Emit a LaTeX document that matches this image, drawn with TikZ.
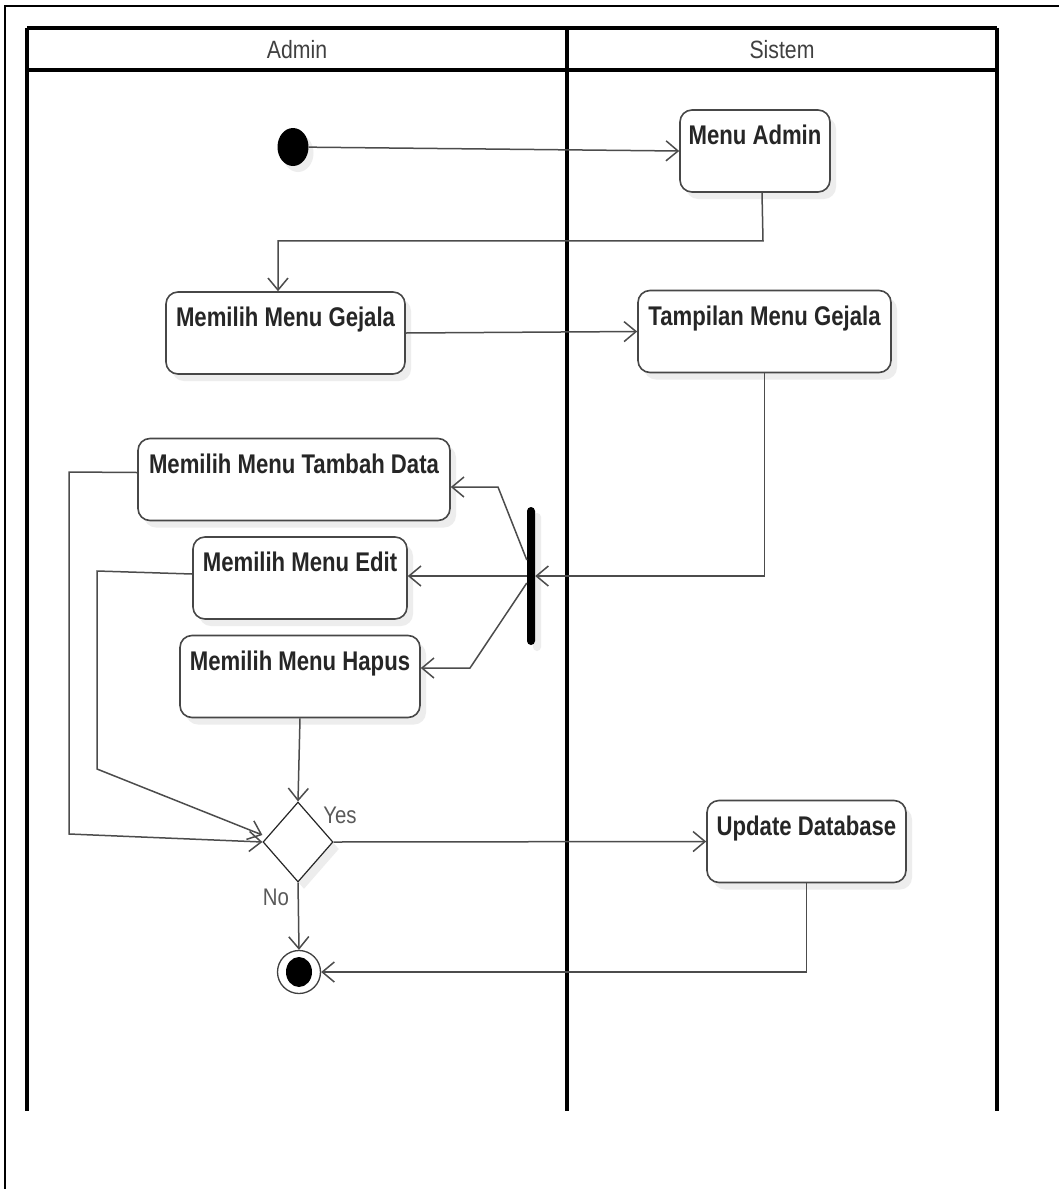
\documentclass[tikz,border=0pt]{standalone}
\usepackage{fontspec}
\setmainfont{Liberation Sans}
\newfontfamily\boxfont{Liberation Sans}[FakeStretch=0.82]
\newfontfamily\lanefont{Liberation Sans}[FakeStretch=0.85]
\usetikzlibrary{arrows.meta,shapes.geometric,shadows}
\begin{document}
\begin{tikzpicture}[x=1pt,y=-1pt,
  lane/.style={line width=3.5pt, black},
  frame/.style={line width=2.5pt, black},
  act/.style={draw=black!72, line width=1.6pt, fill=white, rounded corners=12pt,
    minimum height=82pt, inner sep=0,
    general shadow={fill=black!7, shadow xshift=6pt, shadow yshift=-7pt}},
  acttext/.style={font=\boxfont\bfseries\fontsize{27}{30}\selectfont, text=black!85,
    anchor=north, inner sep=0, yshift=-16pt},
  lanetitle/.style={font=\lanefont\fontsize{25}{28}\selectfont, text=black!75},
  guard/.style={font=\lanefont\fontsize{24}{27}\selectfont, text=black!65},
  flow/.style={draw=black!70, line width=1.5pt,
    -{Straight Barb[length=12pt,width=20pt,line width=1.5pt]}},
  plain/.style={draw=black!70, line width=1.5pt}
]
\useasboundingbox (0,0) rectangle (1059,1189);
\fill[white] (0,0) rectangle (1059,1189);

% surrounding frame
\draw[frame] (1059,6) -- (5,6) -- (5,1189);

% swimlanes
\draw[lane] (27,28) -- (997,28);
\draw[lane] (27,70) -- (997,70);
\draw[lane] (27,28) -- (27,1111);
\draw[lane] (567,28) -- (567,1111);
\draw[lane] (997,28) -- (997,1111);
\node[lanetitle] (laneA) at (297,50) {Admin};
\node[lanetitle] (laneS) at (782,50) {Sistem};

% start and end
\node[ellipse, fill=black, minimum width=31pt, minimum height=38pt, inner sep=0,
  general shadow={fill=black!7, shadow xshift=5pt, shadow yshift=-6pt}] (start) at (293,147) {};
\node[circle, draw=black!75, line width=1.3pt, fill=white, minimum size=43pt, inner sep=0] (final) at (299,972) {};
\fill[black] (final.center) ellipse [x radius=13pt, y radius=15pt];

% activities
\node[act, minimum width=150pt, label={[acttext]north:Menu Admin}] (menuadmin) at (755,151) {};
\node[act, minimum width=239pt, label={[acttext]north:Memilih Menu Gejala}] (pilihgejala) at (285.5,333) {};
\node[act, minimum width=253pt, label={[acttext]north:Tampilan Menu Gejala}] (tampilgejala) at (764.5,331.5) {};
\node[act, minimum width=312pt, label={[acttext]north:Memilih Menu Tambah Data}] (tambah) at (294,479.5) {};
\node[act, minimum width=214pt, label={[acttext]north:Memilih Menu Edit}] (edit) at (300,578) {};
\node[act, minimum width=240pt, label={[acttext]north:Memilih Menu Hapus}] (hapus) at (300,676.5) {};
\node[act, minimum width=199pt, label={[acttext]north:Update Database}] (update) at (806.5,841.5) {};

% fork bar
\node[fill=black, rounded corners=4pt, minimum width=8pt, minimum height=138pt, inner sep=0,
  general shadow={fill=black!7, shadow xshift=6pt, shadow yshift=-6pt}] (fork) at (531,576) {};

% decision
\node[diamond, draw=black!85, line width=1.2pt, fill=white, minimum width=70pt, minimum height=80pt,
  inner sep=0, general shadow={fill=black!7, shadow xshift=6pt, shadow yshift=-7pt}] (dec) at (298,842) {};
\node[guard] (yes) at (340,815) {Yes};
\node[guard] (no) at (276,897) {No};

% control flow
\draw[flow] (start) -- (menuadmin.west);
\draw[flow] ([xshift=7pt]menuadmin.south) -- ++(1,48) -| ([xshift=-7.5pt]pilihgejala.north);
\draw[flow] (pilihgejala.east) -- (tampilgejala.west);
\draw[flow] (tampilgejala.south) |- (fork.east);
\draw[flow] ([yshift=16pt]fork.west) -- (498,487) -- ([yshift=-7.5pt]tambah.east);
\draw[flow] (fork.west) -- (fork.west -| edit.east);
\draw[flow] ([yshift=-7pt]fork.west) -- (470,668) -- ([yshift=8.5pt]hapus.east);
\draw[flow] (hapus.south) -- (dec.north);
\draw[flow] ([yshift=7pt]tambah.west) -- (69,472) -- (69,834) -- (dec.west);
\draw[flow] ([yshift=4pt]edit.west) -- (97,571) -- (97,769) -- ([yshift=7pt]dec.west);
\draw[flow] (dec.east) -- (update.west);
\draw[flow] (dec.south) -- (final.north);
\draw[flow] (update.south) |- (final.east);
\end{tikzpicture}
\end{document}
